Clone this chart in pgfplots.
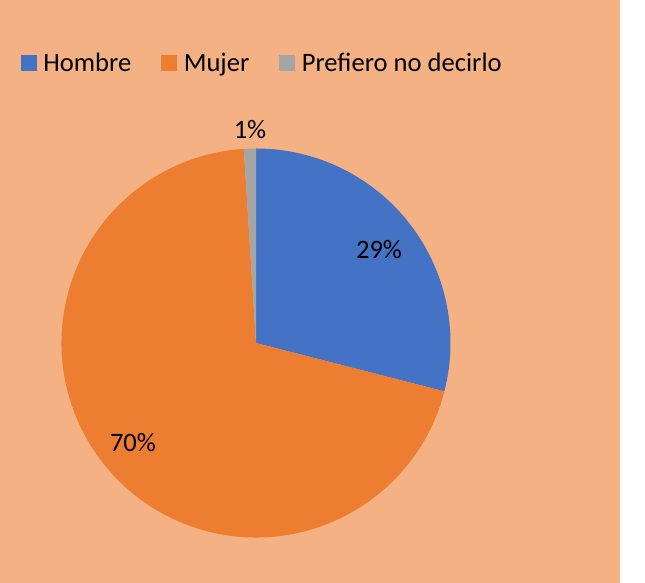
\documentclass[border=0pt]{standalone}
\usepackage{pgfplots}
\pgfplotsset{compat=1.18}
\usepackage{fontspec}
\setmainfont{Carlito}
\definecolor{hombre}{HTML}{4472C4}
\definecolor{mujer}{HTML}{ED7D31}
\definecolor{prefiero}{HTML}{A5A5A5}
\definecolor{bgpeach}{HTML}{F4B183}
\newcommand{\lblfont}{\fontsize{26.6bp}{31bp}\selectfont}
\begin{document}
\begin{tikzpicture}
\begin{axis}[
  scale only axis, width=645bp, height=583bp,
  xmin=0, xmax=645, ymin=0, ymax=583,
  hide axis, clip=false,
  legend image code/.code={\fill[#1] (0bp,-7.5bp) rectangle (15bp,7.5bp);},
  legend style={draw=none, fill=none, inner sep=0pt, outer sep=0pt,
    at={(axis cs:21,519.8)}, anchor=west,
    legend columns=-1,
    nodes={inner sep=0pt, outer sep=0pt},
    font=\lblfont,
    /tikz/every odd column/.append style={column sep=7bp},
    /tikz/every even column/.append style={column sep=30bp}},
]
% background
\fill[white] (axis cs:0,0) rectangle (axis cs:645,583);
\fill[bgpeach] (axis cs:0,0) rectangle (axis cs:620,583);
% pie: Hombre 29, Mujer 70, Prefiero no decirlo 1 (clockwise from top)
\fill[hombre] (axis cs:256,240) -- ++(90:194.5bp) arc[start angle=90, end angle={90-29*3.6}, radius=194.5bp] -- cycle;
\fill[mujer] (axis cs:256,240) -- ++({90-29*3.6}:194.5bp) arc[start angle={90-29*3.6}, end angle={90-(29+70)*3.6}, radius=194.5bp] -- cycle;
\fill[prefiero] (axis cs:256,240) -- ++({90-(29+70)*3.6}:194.5bp) arc[start angle={90-(29+70)*3.6}, end angle={90-100*3.6}, radius=194.5bp] -- cycle;
\addlegendimage{hombre}\addlegendentry{Hombre}
\addlegendimage{mujer}\addlegendentry{Mujer}
\addlegendimage{prefiero}\addlegendentry{Prefiero no decirlo}
\node[font=\lblfont] at (axis cs:379,333) {29\%};
\node[font=\lblfont] at (axis cs:133,140) {70\%};
\node[font=\lblfont] at (axis cs:250,453) {1\%};
\end{axis}
\end{tikzpicture}
\end{document}
